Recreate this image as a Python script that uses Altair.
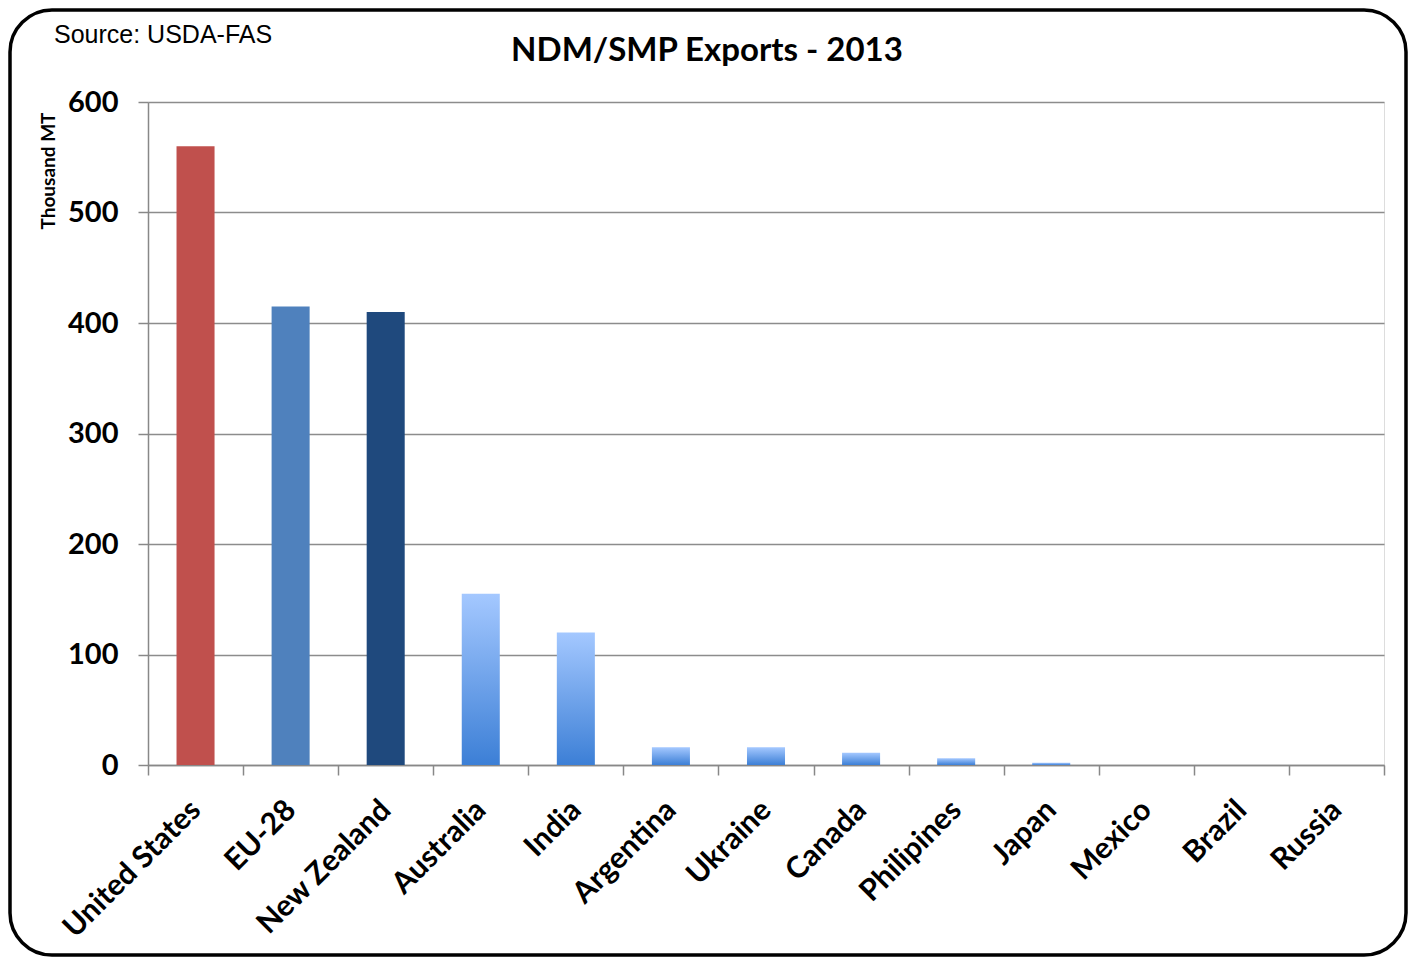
import altair as alt
import pandas as pd

countries = ["United States", "EU-28", "New Zealand", "Australia", "India", "Argentina",
             "Ukraine", "Canada", "Philipines", "Japan", "Mexico", "Brazil", "Russia"]
exports = [560, 415, 410, 155, 120, 16, 16, 11, 6, 2, 0, 0, 0]
solid_colors = ["#C0504D", "#4F81BD", "#1F497D"]

df = pd.DataFrame({"country": countries, "value": exports})
df["group"] = ["solid"] * 3 + ["grad"] * (len(countries) - 3)
df["col"] = solid_colors + [""] * (len(countries) - 3)

FONT = "Lato"

x_enc = alt.X("country:N", sort=countries, title=None,
              scale=alt.Scale(paddingInner=0, paddingOuter=0),
              axis=alt.Axis(labelAngle=-45, labelAlign="right", labelBaseline="middle",
                            labelFont=FONT, labelFontSize=30, labelFontWeight="bold",
                            labelColor="#000000", labelPadding=30, tickSize=10,
                            tickBand="extent", tickColor="#888888", domainColor="#888888",
                            domainWidth=1.5, tickWidth=1.5, labelOverlap=False,
                            labelLimit=400))
y_enc = alt.Y("value:Q", title="Thousand MT",
              scale=alt.Scale(domain=[0, 600], nice=False),
              axis=alt.Axis(values=[0, 100, 200, 300, 400, 500, 600], labelFont=FONT,
                            labelFontSize=29, labelFontWeight="bold", labelColor="#000000",
                            labelPadding=20, tickSize=10, tickColor="#888888",
                            domainColor="#888888", domainWidth=1.5, tickWidth=1.5,
                            gridColor="#8C8C8C", gridWidth=1.3,
                            titleFont=FONT, titleFontSize=19, titleFontWeight="bold",
                            titleColor="#000000", titleAngle=-90, titleAlign="right",
                            titleBaseline="middle", titleX=-100, titleY=10))

solid = alt.Chart(df).transform_filter(alt.datum.group == "solid").mark_bar(
    width=alt.RelativeBandSize(0.4)
).encode(
    x=x_enc, y=y_enc,
    color=alt.Color("col:N", scale=None),
)

grad = alt.Chart(df).transform_filter(alt.datum.group == "grad").mark_bar(
    width=alt.RelativeBandSize(0.4),
    color=alt.Gradient(gradient="linear", x1=0, y1=0, x2=0, y2=1,
                       stops=[alt.GradientStop(offset=0, color="#A4C8FF"),
                              alt.GradientStop(offset=1, color="#3C7FD6")])
).encode(x=x_enc, y=y_enc)

source = alt.Chart(pd.DataFrame({"t": ["Source: USDA-FAS"]})).mark_text(
    align="left", baseline="middle", font="Liberation Sans", fontSize=25, color="#000000"
).encode(x=alt.value(-94), y=alt.value(-67), text="t:N")

title = alt.Chart(pd.DataFrame({"t": ["NDM/SMP Exports - 2013"]})).mark_text(
    align="center", baseline="middle", font=FONT, fontSize=33, fontWeight="bold",
    color="#000000"
).encode(x=alt.value(559), y=alt.value(-51), text="t:N")

frame = alt.Chart(pd.DataFrame({"a": [0]})).mark_rect(
    fill=None, stroke="#000000", strokeWidth=3.5, cornerRadius=42, clip=False
).encode(x=alt.value(-138), x2=alt.value(1258), y=alt.value(-92), y2=alt.value(853))

chart = alt.layer(solid, grad, source, title, frame).properties(
    width=1236, height=663,
    autosize=alt.AutoSizeParams(type="none"),
    padding={"left": 140, "top": 94, "right": 24, "bottom": 194},
).configure_view(stroke=None).configure(background="#FFFFFF")

chart.save("out.html", embed_options={"renderer": "svg", "actions": False})
